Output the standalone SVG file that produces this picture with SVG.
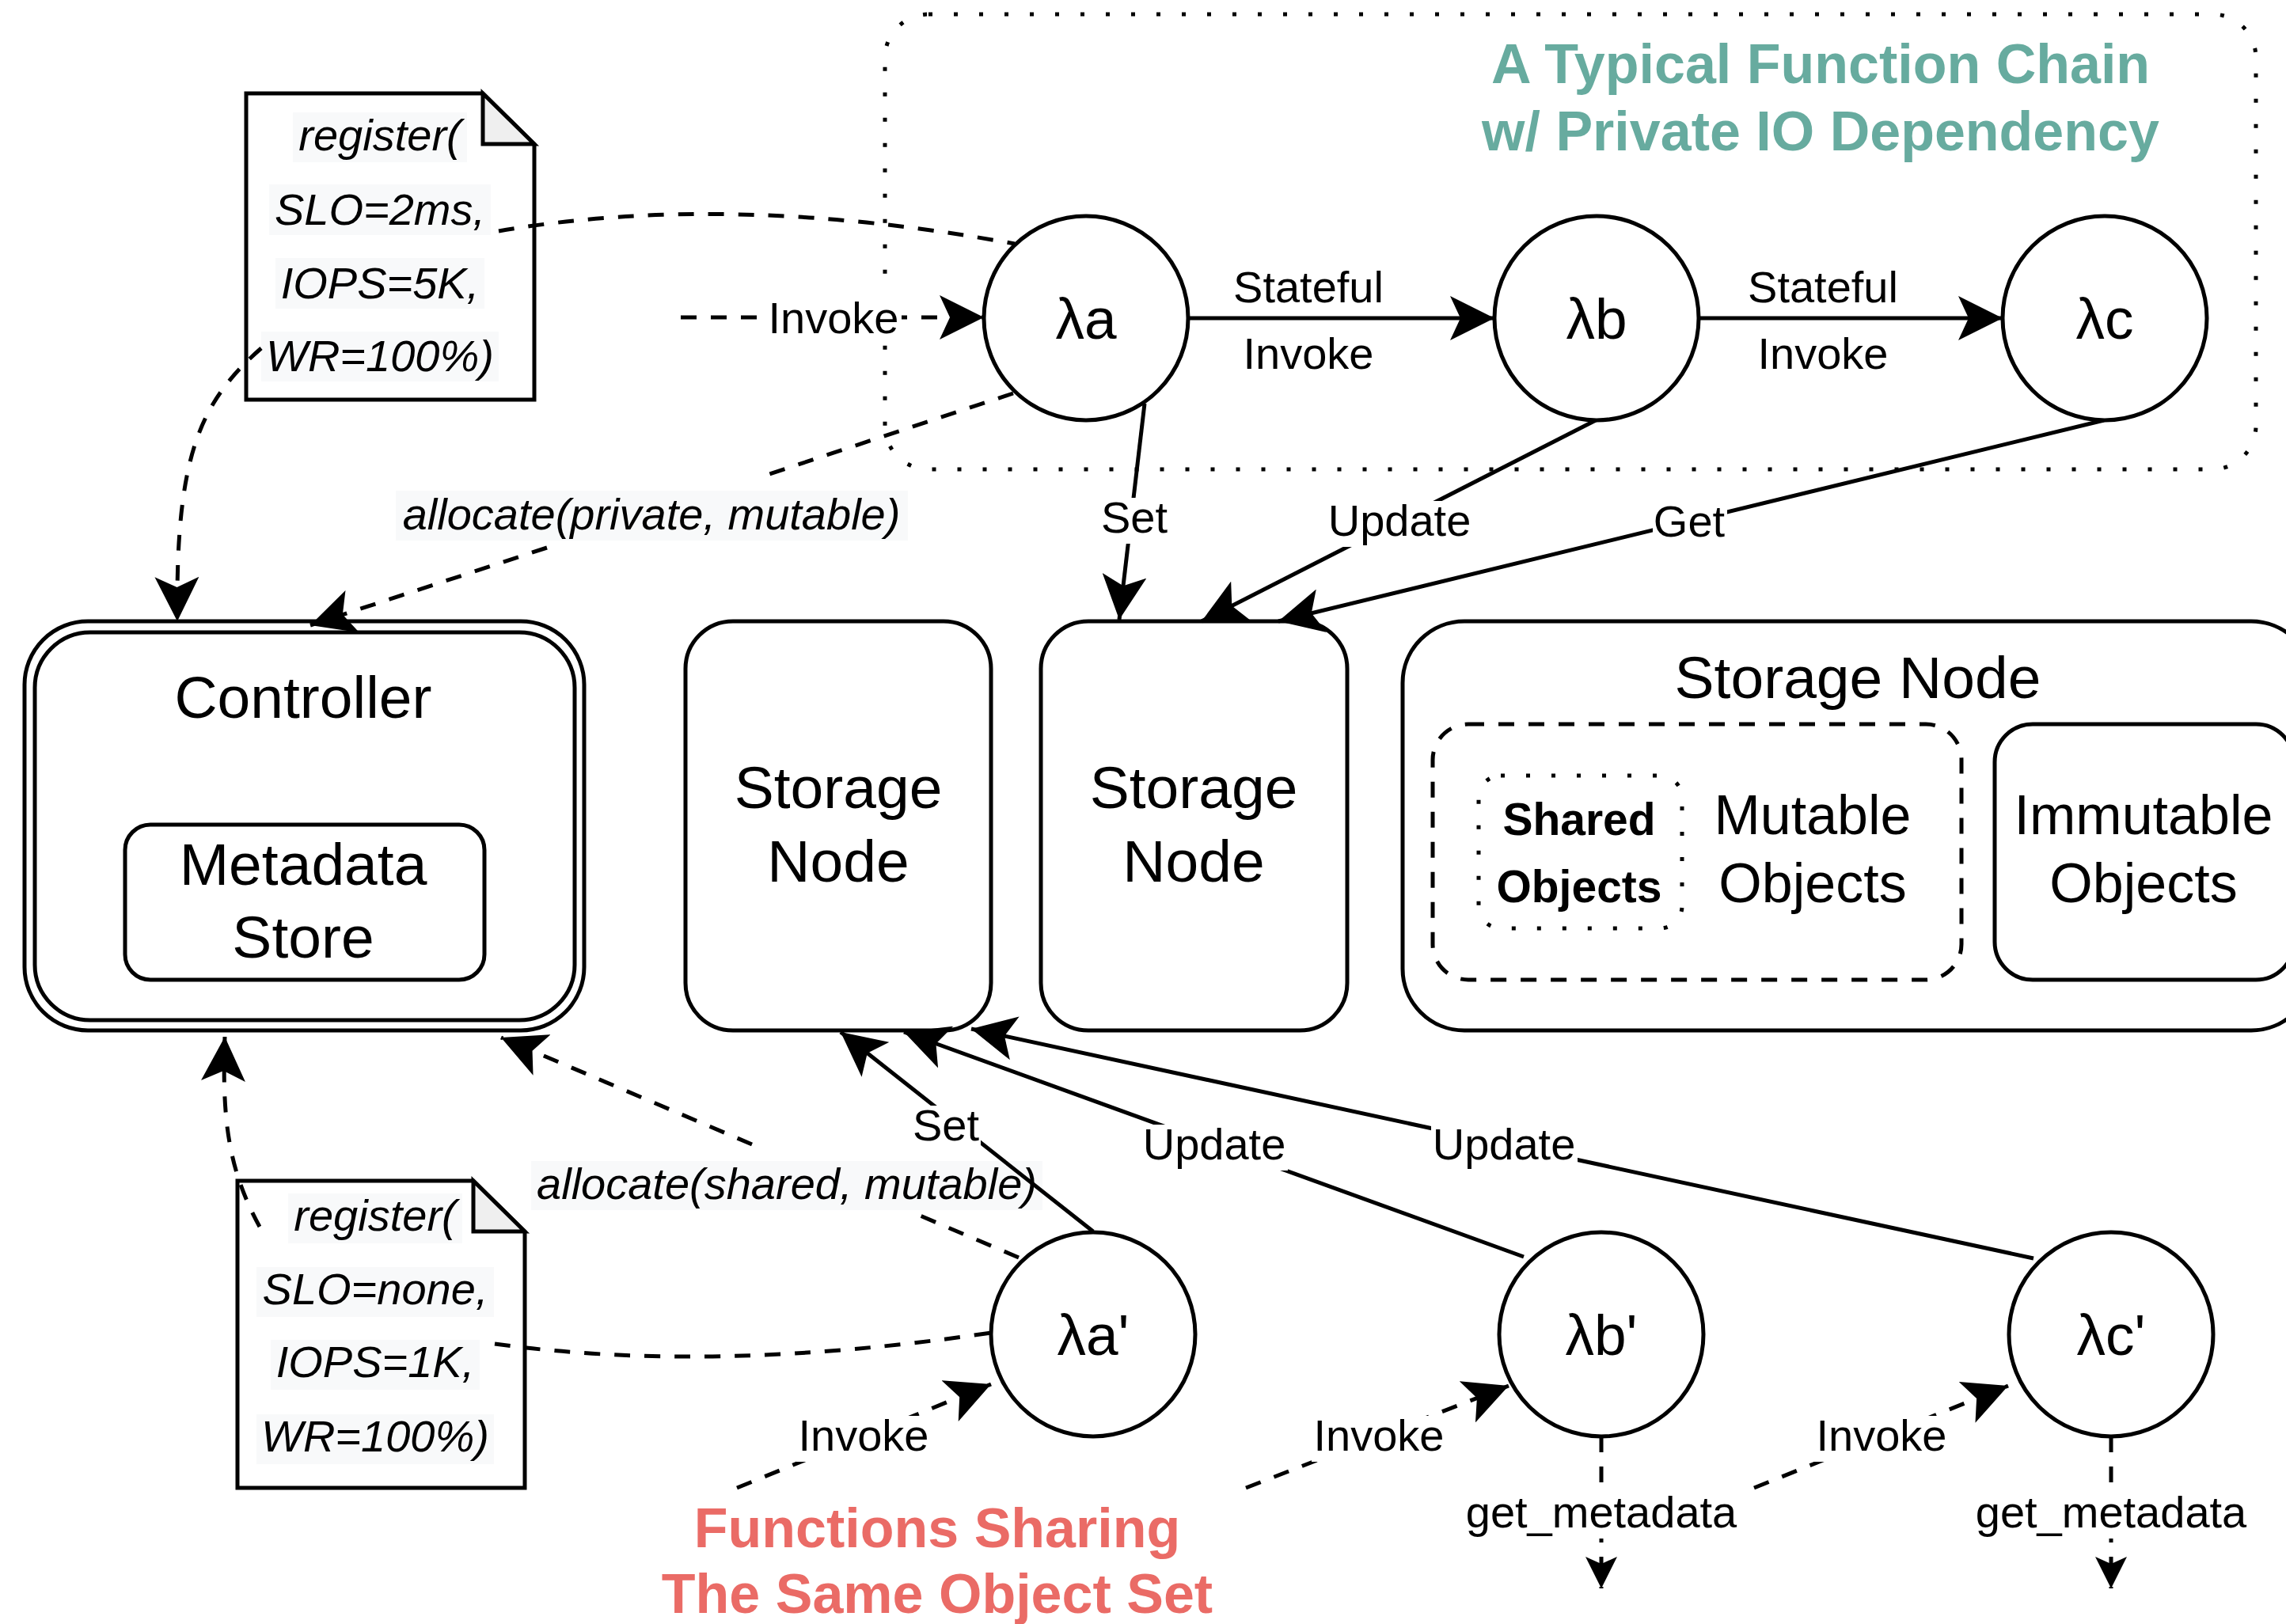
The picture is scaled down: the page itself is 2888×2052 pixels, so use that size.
<svg xmlns="http://www.w3.org/2000/svg" width="2888" height="2052" viewBox="0 0 2888 2052">
<defs>
<style>
text{font-family:"Liberation Sans",Arial,sans-serif;fill:#000}
.box{fill:#fff;stroke:#000;stroke-width:5}
.nofill{fill:none;stroke:#000;stroke-width:5}
.big{font-size:75px;text-anchor:middle}
.mid{font-size:70px;text-anchor:middle}
.lam{font-size:73px;text-anchor:middle}
.lbl{font-size:56px;text-anchor:middle}
.it{font-size:56px;font-style:italic;text-anchor:middle}
.hl{fill:#F8F9FA;stroke:none}
.wbg{fill:#fff;stroke:none}
.solid{fill:none;stroke:#000;stroke-width:5}
.dash{fill:none;stroke:#000;stroke-width:5;stroke-dasharray:20 18}
.dots{fill:none;stroke:#000;stroke-width:5;stroke-dasharray:5 27}
.title{font-size:70px;font-weight:bold;text-anchor:middle}
</style>
<marker id="arr" markerUnits="userSpaceOnUse" markerWidth="56" markerHeight="56" viewBox="0 0 56 56" refX="56" refY="28" orient="auto"><path d="M0,0 L56,28 L0,56 L13,28 Z" fill="#000"/></marker>
<marker id="arrs" markerUnits="userSpaceOnUse" markerWidth="40" markerHeight="40" viewBox="0 0 40 40" refX="40" refY="20" orient="auto"><path d="M0,0 L40,20 L0,40 L9,20 Z" fill="#000"/></marker>
</defs>
<rect width="2888" height="2052" fill="#fff"/>

<g id="chain-group">
<rect class="dots" x="1118" y="18" width="1732" height="575" rx="55"/>
<text class="title" x="2300" y="105" fill="#67AB9F" style="fill:#67AB9F">A Typical Function Chain</text>
<text class="title" x="2300" y="190" style="fill:#67AB9F">w/ Private IO Dependency</text>
</g>

<g id="controller">
<rect class="box" x="31" y="785" width="707" height="517" rx="80"/>
<rect class="box" x="44" y="799" width="682" height="490" rx="70"/>
<text class="big" x="383" y="907">Controller</text>
</g>
<g id="metadata-store">
<rect class="box" x="158" y="1042" width="454" height="196" rx="32"/>
<text class="big" x="383" y="1118">Metadata</text>
<text class="big" x="383" y="1210">Store</text>
</g>

<g id="storage-node-1">
<rect class="box" x="866" y="785" width="386" height="517" rx="60"/>
<text class="big" x="1059" y="1021">Storage</text>
<text class="big" x="1059" y="1114">Node</text>
</g>
<g id="storage-node-2">
<rect class="box" x="1315" y="785" width="387" height="517" rx="60"/>
<text class="big" x="1508" y="1021">Storage</text>
<text class="big" x="1508" y="1114">Node</text>
</g>
<g id="storage-node-3">
<rect class="box" x="1772" y="785" width="1150" height="517" rx="78"/>
<text class="big" x="2347" y="882">Storage Node</text>
</g>
<g id="mutable-objects">
<rect fill="none" stroke="#000" stroke-width="5" stroke-dasharray="20 18" x="1810" y="915" width="668" height="323" rx="45"/>
<text class="mid" x="2290" y="1054">Mutable</text>
<text class="mid" x="2290" y="1140">Objects</text>
</g>
<g id="shared-objects">
<rect class="dots" x="1868" y="980" width="257" height="193" rx="28"/>
<text x="1995" y="1055" style="font-size:57px;font-weight:bold;text-anchor:middle">Shared</text>
<text x="1995" y="1140" style="font-size:57px;font-weight:bold;text-anchor:middle">Objects</text>
</g>
<g id="immutable-objects">
<rect class="box" x="2520" y="915" width="378" height="323" rx="48"/>
<text class="mid" x="2708" y="1054">Immutable</text>
<text class="mid" x="2708" y="1140">Objects</text>
</g>

<g id="note-1">
<path class="box" d="M311,118 L610,118 L675,182 L675,505 L311,505 Z"/>
<path d="M610,118 L610,182 L675,182 Z" fill="#EFEFEF" stroke="#000" stroke-width="5" stroke-linejoin="miter"/>
<rect class="hl" x="370" y="142" width="220" height="63"/>
<rect class="hl" x="340" y="233" width="280" height="64"/>
<rect class="hl" x="348" y="326" width="264" height="64"/>
<rect class="hl" x="330" y="419" width="300" height="63"/>
<text class="it" x="480" y="190">register(</text>
<text class="it" x="480" y="284">SLO=2ms,</text>
<text class="it" x="480" y="377">IOPS=5K,</text>
<text class="it" x="480" y="469">WR=100%)</text>
</g>

<g id="note-2">
<path class="box" d="M300,1492 L598,1492 L663,1556 L663,1880 L300,1880 Z"/>
<path d="M598,1492 L598,1556 L663,1556 Z" fill="#EFEFEF" stroke="#000" stroke-width="5"/>
<rect class="hl" x="364" y="1508" width="220" height="63"/>
<rect class="hl" x="324" y="1601" width="300" height="63"/>
<rect class="hl" x="342" y="1693" width="264" height="63"/>
<rect class="hl" x="324" y="1787" width="300" height="63"/>
<text class="it" x="474" y="1555">register(</text>
<text class="it" x="474" y="1648">SLO=none,</text>
<text class="it" x="474" y="1740">IOPS=1K,</text>
<text class="it" x="474" y="1834">WR=100%)</text>
</g>

<g id="connectors">
<!-- top -->
<path class="dash" d="M630,292 Q920,242 1282,308"/>
<path class="dash" d="M330,440 C250,510 222,580 224,785" marker-end="url(#arr)"/>
<path class="dash" d="M1280,497 L966,601"/>
<path class="dash" d="M691,692 L392,790" marker-end="url(#arr)"/>
<rect class="hl" x="500" y="620" width="647" height="63"/>
<text class="it" x="823" y="669">allocate(private, mutable)</text>
<path class="dash" d="M860,401 L1243,401" marker-end="url(#arr)"/>
<rect class="wbg" x="970" y="372" width="169" height="58"/>
<text class="lbl" x="1053" y="421">Invoke</text>
<path class="solid" d="M1501,402 L1888,402" marker-end="url(#arr)"/>
<text class="lbl" x="1653" y="382">Stateful</text>
<text class="lbl" x="1653" y="466">Invoke</text>
<path class="solid" d="M2146,402 L2530,402" marker-end="url(#arr)"/>
<text class="lbl" x="2303" y="382">Stateful</text>
<text class="lbl" x="2303" y="466">Invoke</text>
<path class="solid" d="M1446,510 L1414,783" marker-end="url(#arr)"/>
<rect class="wbg" x="1389" y="629" width="88" height="58"/>
<text class="lbl" x="1433" y="673">Set</text>
<path class="solid" d="M2016,531 L1518,785" marker-end="url(#arr)"/>
<rect class="wbg" x="1676" y="633" width="185" height="58"/>
<text class="lbl" x="1768" y="677">Update</text>
<path class="solid" d="M2658,531 L1615,785" marker-end="url(#arr)"/>
<rect class="wbg" x="2088" y="634" width="94" height="58"/>
<text class="lbl" x="2134" y="678">Get</text>

<!-- bottom -->
<path class="dash" d="M625,1698 Q900,1736 1252,1684"/>
<path class="dash" d="M328,1550 C290,1480 280,1420 284,1310" marker-end="url(#arr)"/>
<path class="dash" d="M1287,1589 L1160,1535"/>
<path class="dash" d="M950,1446 L633,1311" marker-end="url(#arr)"/>
<rect class="hl" x="671" y="1467" width="646" height="62"/>
<text class="it" x="994" y="1515">allocate(shared, mutable)</text>
<path class="solid" d="M1381,1556 L1062,1304" marker-end="url(#arr)"/>
<rect class="wbg" x="1151" y="1397" width="88" height="58"/>
<text class="lbl" x="1195" y="1441">Set</text>
<path class="solid" d="M1925,1588 L1142,1304" marker-end="url(#arr)"/>
<rect class="wbg" x="1442" y="1421" width="185" height="58"/>
<text class="lbl" x="1534" y="1465">Update</text>
<path class="solid" d="M2569,1590 L1227,1300" marker-end="url(#arr)"/>
<rect class="wbg" x="1808" y="1421" width="185" height="58"/>
<text class="lbl" x="1900" y="1465">Update</text>
<path class="dash" d="M931,1880 L1252,1749" marker-end="url(#arr)"/>
<rect class="wbg" x="1006" y="1789" width="170" height="58"/>
<text class="lbl" x="1091" y="1833">Invoke</text>
<path class="dash" d="M1574,1880 L1906,1751" marker-end="url(#arr)"/>
<rect class="wbg" x="1657" y="1789" width="170" height="58"/>
<text class="lbl" x="1742" y="1833">Invoke</text>
<path class="dash" d="M2216,1880 L2537,1751" marker-end="url(#arr)"/>
<rect class="wbg" x="2292" y="1789" width="170" height="58"/>
<text class="lbl" x="2377" y="1833">Invoke</text>
<path class="dash" d="M2023,1815 L2023,2007" marker-end="url(#arrs)"/>
<rect class="wbg" x="1848" y="1886" width="350" height="58"/>
<text class="lbl" x="2023" y="1930">get_metadata</text>
<path class="dash" d="M2667,1815 L2667,2007" marker-end="url(#arrs)"/>
<rect class="wbg" x="2492" y="1886" width="350" height="58"/>
<text class="lbl" x="2667" y="1930">get_metadata</text>
</g>

<g id="lambda-a"><circle class="box" cx="1372" cy="402" r="129"/><text class="lam" x="1372" y="428">λa</text></g>
<g id="lambda-b"><circle class="box" cx="2017" cy="402" r="129"/><text class="lam" x="2017" y="428">λb</text></g>
<g id="lambda-c"><circle class="box" cx="2659" cy="402" r="129"/><text class="lam" x="2659" y="428">λc</text></g>
<g id="lambda-a2"><circle class="box" cx="1381" cy="1686" r="129"/><text class="lam" x="1381" y="1712">λa'</text></g>
<g id="lambda-b2"><circle class="box" cx="2023" cy="1686" r="129"/><text class="lam" x="2023" y="1712">λb'</text></g>
<g id="lambda-c2"><circle class="box" cx="2667" cy="1686" r="129"/><text class="lam" x="2667" y="1712">λc'</text></g>

<g id="shared-title">
<text class="title" x="1184" y="1955" style="fill:#EA6B66">Functions Sharing</text>
<text class="title" x="1184" y="2038" style="fill:#EA6B66">The Same Object Set</text>
</g>
</svg>
